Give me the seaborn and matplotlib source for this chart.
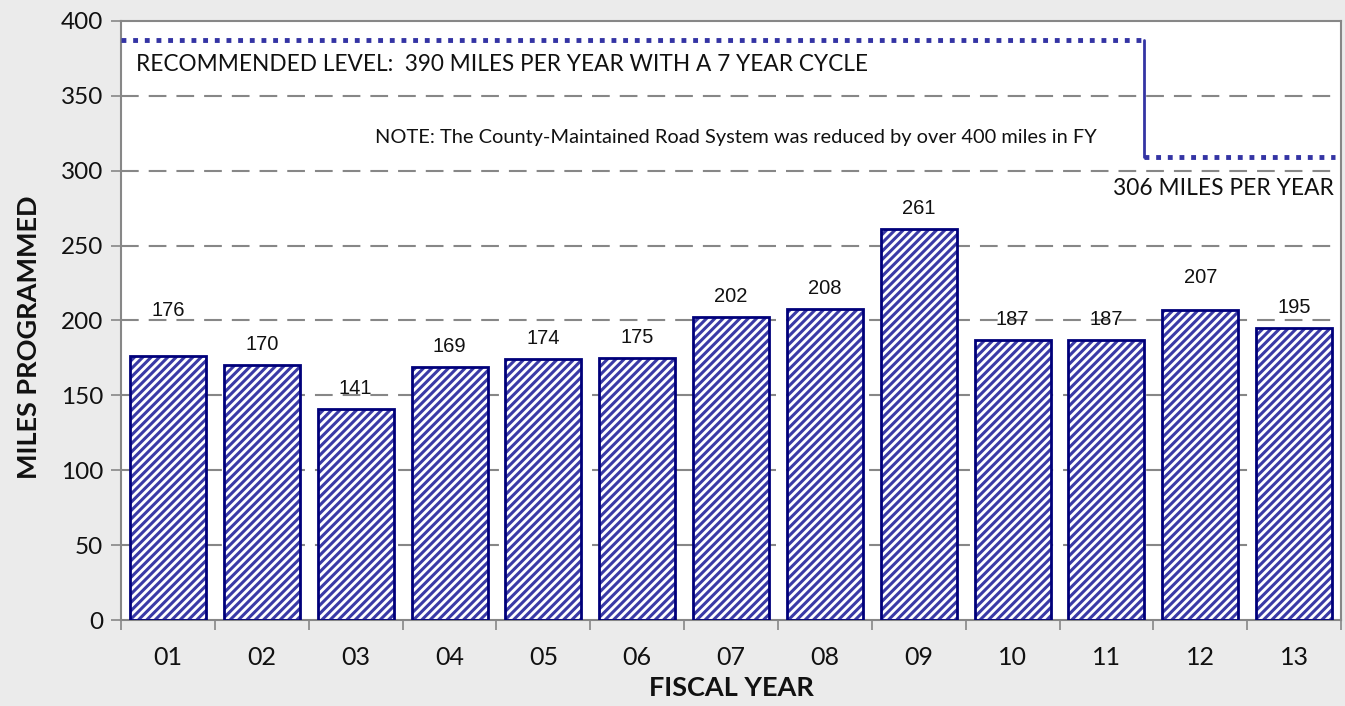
import matplotlib
matplotlib.use("Agg")
import matplotlib.pyplot as plt
import seaborn as sns
import pandas as pd
from matplotlib.patches import Rectangle

# ---- data ----
years = ["01", "02", "03", "04", "05", "06", "07", "08", "09", "10", "11", "12", "13"]
miles = [176, 170, 141, 169, 174, 175, 202, 208, 261, 187, 187, 207, 195]
label_extra_lift = [25, 0, 0, 0, 0, 0, 0, 0, 0, 0, 0, 12, 0]  # label nudges (px)
recommended_before = 387
recommended_after = 309
y_ticks = [0, 50, 100, 150, 200, 250, 300, 350, 400]

rec_text = "RECOMMENDED LEVEL:  390 MILES PER YEAR WITH A 7 YEAR CYCLE"
note_text = "NOTE: The County-Maintained Road System was reduced by over 400 miles in FY"
after_text = "306 MILES PER YEAR"

sns.set_theme(style="white")
plt.rcParams["font.family"] = ["Lato", "DejaVu Sans"]
plt.rcParams["hatch.linewidth"] = 2.2

BG = "#ebebeb"
GRID = "#878787"
NAVY = "#00007a"
HATCH = "#3a3aa6"
DOT = "#3434a4"

fig = plt.figure(figsize=(13.45, 7.06), dpi=100, facecolor=BG)
ax = fig.add_axes([0.09, 0.1218, 0.9071, 0.8485])
ax.set_facecolor("white")

df = pd.DataFrame({"year": years, "miles": miles})
sns.barplot(data=df, x="year", y="miles", ax=ax, color="white",
            width=0.81, linewidth=0, edgecolor=HATCH, saturation=1, zorder=2)
bars = list(ax.patches)
for p in bars:
    p.set_hatch("////")
    p.set_edgecolor(HATCH)
    p.set_facecolor("white")
    p.set_linewidth(0)
    ax.add_patch(Rectangle(p.get_xy(), p.get_width(), p.get_height(),
                           fill=False, edgecolor=NAVY, linewidth=2.0, zorder=3))

# labels
px2pt = 72 / 100
for p, v, lift in zip(bars, miles, label_extra_lift):
    ax.annotate(str(v), (p.get_x() + p.get_width() / 2, v),
                xytext=(0, (11 + lift) * px2pt), textcoords="offset points",
                ha="center", va="bottom", fontsize=14.5,
                family=["Liberation Sans", "DejaVu Sans"], color="#111111", zorder=4)

# axes
ax.set_xlim(-0.5, len(years) - 0.5)
ax.set_ylim(0, 400)
ax.set_yticks(y_ticks)
for y in y_ticks[1:-1]:
    ax.axhline(y, color=GRID, linewidth=1.5, dashes=(8.5, 4.8), zorder=1)

for s in ax.spines.values():
    s.set_visible(True)
    s.set_color(GRID)
    s.set_linewidth(1.5)

ax.tick_params(axis="y", left=True, length=7, width=1.2, color=GRID,
               labelsize=17.5, labelcolor="#111111", pad=6)
ax.tick_params(axis="x", bottom=False, length=0, labelsize=18,
               labelcolor="#111111", pad=19)
ax.set_xticks([i - 0.5 for i in range(len(years) + 1)], minor=True)
ax.tick_params(axis="x", which="minor", bottom=True, length=7, width=1.2, color=GRID)

ax.set_xlabel("FISCAL YEAR", fontsize=19.5, fontweight="bold", color="#111111", labelpad=5)
ax.set_ylabel("MILES PROGRAMMED", fontsize=19.5, fontweight="bold", color="#111111")
ax.yaxis.set_label_coords(-0.0655, 0.4725)

# recommended level step line
step_x = bars[10].get_x() + bars[10].get_width()
ax.plot([-0.5, step_x], [recommended_before, recommended_before], color=DOT,
        linewidth=3.5, dashes=(1.0, 1.4), dash_capstyle="butt", zorder=5, clip_on=False)
ax.plot([step_x, step_x], [recommended_before, recommended_after], color=DOT,
        linewidth=2.0, zorder=5)
ax.plot([step_x, len(years) - 0.56], [recommended_after, recommended_after], color=DOT,
        linewidth=3.5, dashes=(1.0, 1.4), dash_capstyle="butt", zorder=5)

ax.text(-0.34, 371, rec_text, fontsize=16.3, color="#111111", va="center", ha="left", zorder=6)
ax.text(step_x - 0.51, 322, note_text, fontsize=14.4, color="#111111", va="center", ha="right", zorder=6)
ax.text(len(years) - 0.58, 288, after_text, fontsize=16.4, color="#111111", va="center", ha="right", zorder=6)

fig.savefig("out.png", dpi=100, facecolor=BG)
